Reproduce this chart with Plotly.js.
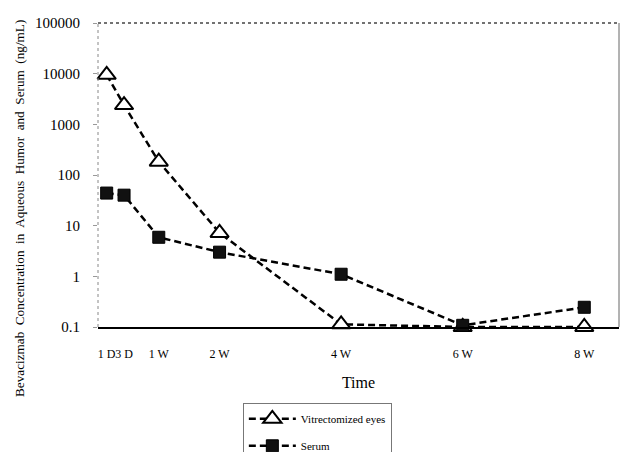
<!DOCTYPE html>
<html>
<head>
<meta charset="utf-8">
<script src="https://cdn.plot.ly/plotly-3.0.1.min.js"></script>
<style>html,body{margin:0;padding:0;background:#fff;}#chart{width:624px;height:452px;}</style>
</head>
<body>
<div id="chart"></div>
<script>
// Time points (days after injection) and their labels
const timeDays = [1, 3, 7, 14, 28, 42, 56];
const timeLabels = ["1 D", "3 D", "1 W", "2 W", "4 W", "6 W", "8 W"];
// Bevacizumab concentration (ng/mL)
const vitrectomized = [9500, 2400, 183, 7.2, 0.113, 0.1, 0.1];
const serum = [44, 40, 5.9, 3.0, 1.1, 0.108, 0.245];
const yTickVals = [0.1, 1, 10, 100, 1000, 10000, 100000];
const yTickText = ["0.1", "1", "10", "100", "1000", "10000", "100000"];

const serif = "Liberation Serif";

const traces = [
  {
    x: timeDays, y: vitrectomized, name: "Vitrectomized eyes",
    type: "scatter", mode: "lines+markers", cliponaxis: false, legendgroup: "a",
    line: {color: "#000", width: 2.5, dash: "7px,4px"},
    marker: {symbol: "triangle-up", size: 16, color: "#fff", line: {color: "#000", width: 2}}
  },
  {
    x: timeDays, y: serum, name: "Serum",
    type: "scatter", mode: "lines+markers", cliponaxis: false, legendgroup: "b",
    line: {color: "#000", width: 2.5, dash: "7px,4px"},
    marker: {symbol: "square", size: 12, color: "#111", line: {color: "#000", width: 1}}
  }
];

const layout = {
  width: 624, height: 452,
  margin: {l: 98, r: 5, t: 23, b: 125, autoexpand: false},
  paper_bgcolor: "#fff", plot_bgcolor: "#fff",
  font: {family: serif, color: "#000", size: 13},
  showlegend: true,
  legend: {
    x: 0.278, y: -0.251, xanchor: "left", yanchor: "top",
    bordercolor: "#777", borderwidth: 1, bgcolor: "#fff",
    font: {family: serif, size: 11, color: "#000"},
    tracegroupgap: 8, traceorder: "grouped", itemwidth: 47
  },
  xaxis: {
    range: [0, 60], tickvals: timeDays, ticktext: timeLabels, tickangle: 0,
    showgrid: false, zeroline: false, showline: true, linecolor: "#000", linewidth: 1.5,
    ticks: "", tickfont: {family: serif, size: 12}, ticklabelstandoff: 15,
    title: {text: "Time", font: {family: serif, size: 16}, standoff: 17},
    fixedrange: true
  },
  yaxis: {
    type: "log", range: [-1, 5], tickvals: yTickVals, ticktext: yTickText,
    showgrid: false, zeroline: false, showline: false,
    ticks: "outside", ticklen: 4, tickcolor: "#999", tickwidth: 1,
    tickfont: {family: serif, size: 15}, ticklabelstandoff: 10,
    fixedrange: true
  },
  shapes: [
    {type: "line", xref: "paper", yref: "paper", x0: 0, x1: 0, y0: 0, y1: 1, line: {color: "#888", width: 1, dash: "dot"}},
    {type: "line", xref: "paper", yref: "paper", x0: 0, x1: 1, y0: 1, y1: 1, line: {color: "#444", width: 1.5, dash: "dot"}},
    {type: "line", xref: "paper", yref: "paper", x0: 1, x1: 1, y0: 0, y1: 1, line: {color: "#666", width: 1}}
  ],
  annotations: [
    {text: "Bevacizmab  Concentration  in  Aqueous  Humor  and  Serum  (ng/mL)",
     xref: "paper", yref: "paper", x: -0.152, y: 0.391, xanchor: "center", yanchor: "middle",
     textangle: -90, showarrow: false, font: {family: serif, size: 13.2, color: "#000"}}
  ]
};

Plotly.newPlot("chart", traces, layout, {displayModeBar: false, staticPlot: true});
</script>
</body>
</html>
